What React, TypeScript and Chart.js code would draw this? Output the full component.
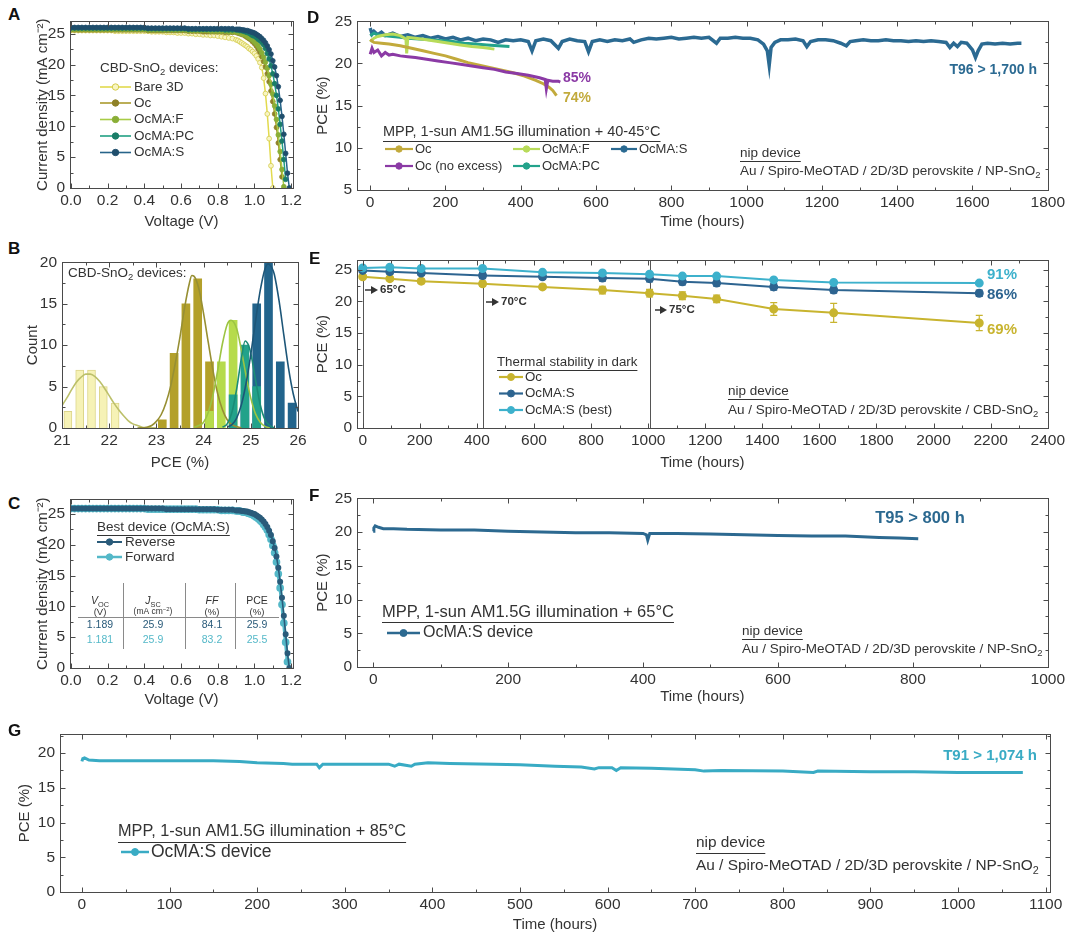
import React, { useEffect, useRef } from 'react';
import { Chart, registerables } from 'chart.js';

Chart.register(...registerables);

const FONT = '"Liberation Sans", Arial, Helvetica, sans-serif';
const TXT = '#333333';
const AXIS = '#4a4a4a';
const TICK_SIZE = 15.5;
const TITLE_SIZE = 15;
const PAD_T = 10;
const PAD_R = 20;

// ---------------- Panel A : J-V curves ----------------
const JV_V = [0, 0.02, 0.04, 0.06, 0.08, 0.1, 0.12, 0.14, 0.16, 0.18, 0.2, 0.22, 0.24, 0.26, 0.28, 0.3, 0.32, 0.34, 0.36, 0.38, 0.4,
  0.42, 0.44, 0.46, 0.48, 0.5, 0.52, 0.54, 0.56, 0.58, 0.6,
  0.62, 0.64, 0.66, 0.68, 0.7, 0.72, 0.74, 0.76, 0.78, 0.8, 0.82, 0.84, 0.86, 0.88, 0.9,
  0.91, 0.92, 0.93, 0.94, 0.95, 0.96, 0.97, 0.98, 0.99, 1.0, 1.01, 1.02, 1.03, 1.04, 1.05, 1.06, 1.07, 1.08, 1.09, 1.1,
  1.11, 1.12, 1.13, 1.14, 1.15, 1.16, 1.17, 1.18, 1.19, 1.2];
const A_BARE = [25.5, 25.5, 25.5, 25.5, 25.5, 25.5, 25.5, 25.5, 25.5, 25.5, 25.5, 25.5, 25.4, 25.4, 25.4, 25.4, 25.4, 25.4, 25.4, 25.4, 25.4,
  25.4, 25.3, 25.3, 25.3, 25.3, 25.2, 25.2, 25.2, 25.1, 25.1,
  25.1, 25.0, 25.0, 24.9, 24.9, 24.8, 24.8, 24.7, 24.7, 24.6, 24.5, 24.4, 24.3, 24.2, 24.0,
  23.9, 23.7, 23.5, 23.3, 23.1, 22.9, 22.6, 22.4, 22.1, 21.8, 21.4, 20.9, 20.3, 19.5, 17.8, 15.3, 12.0, 8.0, 3.6, 0];
const A_OC = [25.6, 25.6, 25.6, 25.6, 25.6, 25.6, 25.6, 25.6, 25.6, 25.6, 25.6, 25.6, 25.6, 25.6, 25.6, 25.6, 25.6, 25.6, 25.6, 25.6, 25.6,
  25.5, 25.5, 25.5, 25.5, 25.5, 25.5, 25.5, 25.5, 25.5, 25.5,
  25.5, 25.4, 25.4, 25.4, 25.4, 25.3, 25.3, 25.3, 25.3, 25.3, 25.3, 25.2, 25.2, 25.2, 25.2,
  25.1, 25.0, 24.9, 24.8, 24.6, 24.4, 24.2, 24.0, 23.7, 23.4, 23.0, 22.5, 22.0, 21.3, 20.5, 19.6, 18.5, 17.2, 15.7, 14.0,
  12.0, 9.8, 7.3, 4.6, 1.8];
const A_F = [25.7, 25.7, 25.7, 25.7, 25.7, 25.7, 25.7, 25.7, 25.7, 25.7, 25.7, 25.7, 25.7, 25.7, 25.7, 25.7, 25.7, 25.7, 25.7, 25.7, 25.7,
  25.6, 25.6, 25.6, 25.6, 25.6, 25.6, 25.6, 25.6, 25.6, 25.6,
  25.6, 25.5, 25.5, 25.5, 25.5, 25.5, 25.5, 25.4, 25.4, 25.4, 25.4, 25.4, 25.3, 25.3, 25.3,
  25.2, 25.1, 25.0, 24.9, 24.8, 24.6, 24.4, 24.2, 24.0, 23.7, 23.4, 23.0, 22.5, 21.9, 21.2, 20.4, 19.4, 18.2, 16.8, 15.2,
  13.3, 11.1, 8.6, 5.9, 3.0, 0.2];
const A_PC = [25.9, 25.9, 25.9, 25.9, 25.9, 25.9, 25.9, 25.9, 25.9, 25.9, 25.9, 25.9, 25.9, 25.9, 25.9, 25.9, 25.9, 25.9, 25.9, 25.9, 25.9,
  25.8, 25.8, 25.8, 25.8, 25.8, 25.8, 25.8, 25.8, 25.8, 25.8,
  25.8, 25.7, 25.7, 25.7, 25.7, 25.7, 25.7, 25.7, 25.7, 25.7, 25.7, 25.6, 25.6, 25.6, 25.6,
  25.6, 25.5, 25.5, 25.4, 25.3, 25.2, 25.1, 24.9, 24.7, 24.6, 24.4, 24.1, 23.9, 23.6, 23.2, 22.6, 21.8, 20.9, 19.8, 18.5,
  16.9, 15.0, 12.8, 10.3, 7.6, 4.6, 1.4];
const A_S = [26.0, 26.0, 26.0, 26.0, 26.0, 26.0, 26.0, 26.0, 26.0, 26.0, 26.0, 26.0, 26.0, 26.0, 26.0, 26.0, 26.0, 26.0, 26.0, 26.0, 26.0,
  25.9, 25.9, 25.9, 25.9, 25.9, 25.9, 25.9, 25.9, 25.9, 25.9,
  25.9, 25.8, 25.8, 25.8, 25.8, 25.8, 25.8, 25.8, 25.8, 25.8, 25.8, 25.8, 25.8, 25.8, 25.7,
  25.7, 25.7, 25.6, 25.6, 25.5, 25.5, 25.4, 25.3, 25.2, 25.1, 24.9, 24.7, 24.5, 24.2, 23.9, 23.5, 23.0, 22.4, 21.7, 20.6,
  19.6, 18.2, 16.4, 14.2, 11.6, 8.7, 5.6, 2.4, 0];

// ---------------- Panel B : PCE histograms ----------------
const B_BARE_X = [21.125, 21.375, 21.625, 21.875, 22.125];
const B_BARE_N = [2, 7, 7, 5, 3];
const B_OC_X = [23.125, 23.375, 23.625, 23.875, 24.125];
const B_OC_N = [1, 9, 15, 18, 8];
const B_F_X = [24.125, 24.375, 24.625];
const B_F_N = [2, 8, 13];
const B_PC_X = [24.625, 24.875, 25.125];
const B_PC_N = [4, 10, 5];
const B_S_X = [24.875, 25.125, 25.375, 25.625, 25.875];
const B_S_N = [4, 15, 20, 8, 3];
const B_FIT_BARE_X = [21.0, 21.1, 21.2, 21.3, 21.4, 21.5, 21.6, 21.7, 21.8, 21.9, 22.0, 22.1, 22.2, 22.3, 22.4, 22.5, 22.6, 22.7, 22.8, 23.0];
const B_FIT_BARE_Y = [2.7, 3.6, 4.6, 5.5, 6.1, 6.5, 6.5, 6.2, 5.6, 4.8, 3.9, 3.0, 2.2, 1.5, 0.9, 0.5, 0.3, 0.1, 0.05, 0];
const B_FIT_OC_X = [22.6, 22.8, 22.9, 23.0, 23.1, 23.2, 23.3, 23.4, 23.5, 23.6, 23.7, 23.75, 23.8, 23.9, 24.0, 24.1, 24.2, 24.3, 24.4, 24.5, 24.6, 24.8];
const B_FIT_OC_Y = [0, 0.1, 0.3, 0.8, 1.6, 3.0, 5.0, 7.8, 11.0, 14.6, 17.5, 18.4, 18.3, 16.8, 13.8, 10.3, 6.9, 4.1, 2.2, 1.0, 0.4, 0];
const B_FIT_F_X = [23.8, 23.9, 24.0, 24.1, 24.2, 24.3, 24.4, 24.5, 24.58, 24.7, 24.8, 24.9, 25.0, 25.1, 25.2, 25.3, 25.4];
const B_FIT_F_Y = [0.1, 0.3, 0.7, 1.9, 4.0, 7.0, 10.2, 12.5, 13.0, 12.0, 9.4, 6.3, 3.6, 1.7, 0.7, 0.2, 0];
const B_FIT_PC_X = [24.4, 24.5, 24.6, 24.7, 24.8, 24.88, 24.95, 25.0, 25.1, 25.2, 25.3, 25.4, 25.5];
const B_FIT_PC_Y = [0.1, 0.5, 1.9, 4.7, 8.4, 10.5, 10.0, 9.0, 5.8, 2.8, 1.0, 0.3, 0];
const B_FIT_S_X = [24.5, 24.6, 24.7, 24.8, 24.9, 25.0, 25.1, 25.2, 25.3, 25.37, 25.45, 25.5, 25.6, 25.7, 25.8, 25.9, 26.0];
const B_FIT_S_Y = [0.1, 0.4, 1.2, 2.8, 5.4, 8.9, 12.9, 16.6, 19.2, 19.8, 19.3, 18.5, 15.3, 11.2, 7.2, 4.1, 2.0];

// ---------------- Panel C : best device J-V ----------------
const C_REV = [25.9, 25.9, 25.9, 25.9, 25.9, 25.9, 25.9, 25.9, 25.9, 25.9, 25.9, 25.9, 25.9, 25.9, 25.9, 25.9, 25.9, 25.9, 25.9, 25.9, 25.9,
  25.9, 25.9, 25.9, 25.9, 25.9, 25.8, 25.8, 25.8, 25.8, 25.8,
  25.8, 25.8, 25.8, 25.8, 25.8, 25.8, 25.8, 25.8, 25.8, 25.7, 25.7, 25.7, 25.7, 25.7, 25.6,
  25.6, 25.6, 25.5, 25.5, 25.4, 25.4, 25.3, 25.2, 25.1, 25.0, 24.8, 24.6, 24.4, 24.1, 23.8, 23.4, 22.9, 22.3, 21.6, 20.6,
  19.5, 18.1, 16.3, 14.0, 11.4, 8.5, 5.5, 2.4, 0];
const C_FWD = [25.9, 25.9, 25.9, 25.9, 25.9, 25.9, 25.9, 25.9, 25.9, 25.9, 25.9, 25.9, 25.9, 25.9, 25.9, 25.9, 25.9, 25.9, 25.9, 25.9, 25.9,
  25.8, 25.8, 25.8, 25.8, 25.8, 25.8, 25.8, 25.8, 25.8, 25.8,
  25.8, 25.8, 25.8, 25.8, 25.7, 25.7, 25.7, 25.7, 25.7, 25.7, 25.6, 25.6, 25.6, 25.6, 25.5,
  25.5, 25.5, 25.4, 25.3, 25.3, 25.2, 25.1, 25.0, 24.9, 24.7, 24.5, 24.3, 24.0, 23.7, 23.3, 22.9, 22.4, 21.7, 20.9, 19.9,
  18.7, 17.2, 15.3, 13.0, 10.3, 7.3, 4.2, 1.0];
const C_TABLE_REV = ['1.189', '25.9', '84.1', '25.9'];
const C_TABLE_FWD = ['1.181', '25.9', '83.2', '25.5'];

// ---------------- Panel D : MPP 40-45 °C ----------------
const D_S_T = [0, 5, 10, 20, 30, 40, 60, 80, 100, 120, 140, 160, 180, 200, 220, 240, 260, 280, 300, 320, 340, 360, 380, 400, 420, 430, 440, 460, 480, 500,
  510, 530, 550, 570, 580, 590, 610, 630, 650, 670, 690, 700, 720, 740, 760, 780, 800, 820, 840, 860, 880, 900, 920, 930, 950, 970, 990, 1010, 1030, 1045,
  1055, 1060, 1065, 1075, 1090, 1110, 1130, 1150, 1160, 1170, 1190, 1210, 1230, 1250, 1265, 1275, 1290, 1310, 1330, 1350, 1370, 1390, 1410, 1430, 1450,
  1470, 1490, 1510, 1530, 1540, 1550, 1560, 1570, 1585, 1600, 1608, 1615, 1625, 1640, 1660, 1680, 1700, 1720, 1730];
const D_S_PCE = [24.2, 23.5, 23.8, 23.4, 23.7, 23.3, 23.6, 23.2, 23.4, 23.1, 23.3, 23.0, 23.2, 22.9, 23.1, 22.8, 23.0, 22.7, 22.9, 22.8, 22.5, 22.8, 22.7, 22.8, 22.6, 21.5, 22.7, 22.9, 22.7, 21.8,
  22.6, 22.9, 22.7, 22.6, 21.4, 22.6, 22.8, 22.6, 22.8, 22.7, 22.9, 22.5, 22.8, 23.0, 22.9, 23.0, 23.1, 22.9, 23.0, 23.1, 23.0, 23.1, 22.4, 23.0, 23.0, 23.1, 23.0, 23.0, 22.8, 22.3,
  21.5, 19.8, 21.9, 22.5, 22.8, 22.8, 22.9, 22.7, 22.0, 22.6, 22.8, 22.8, 22.7, 22.4, 22.1, 22.6, 22.7, 22.8, 22.7, 22.7, 22.8, 22.7, 22.7, 22.6, 22.7,
  22.6, 22.7, 22.6, 22.5, 21.9, 22.4, 22.0, 22.5, 22.4, 21.6, 20.7, 21.5, 22.3, 22.4, 22.3, 22.4, 22.3, 22.4, 22.4];
const D_PC_T = [0, 10, 20, 40, 60, 80, 100, 130, 160, 190, 220, 250, 280, 310, 340, 370];
const D_PC_PCE = [23.3, 23.6, 23.4, 23.3, 23.2, 23.1, 23.0, 22.9, 22.8, 22.7, 22.6, 22.4, 22.3, 22.2, 22.1, 22.0];
const D_F_T = [0, 10, 20, 40, 60, 80, 95, 97, 100, 120, 150, 180, 210, 240, 270, 300, 330];
const D_F_PCE = [22.6, 23.0, 23.2, 23.4, 23.5, 23.3, 22.9, 21.2, 23.1, 23.0, 22.8, 22.6, 22.4, 22.2, 22.0, 21.9, 21.7];
const D_OC_T = [0, 10, 30, 50, 80, 110, 140, 170, 200, 230, 260, 290, 320, 350, 380, 410, 440, 460, 475, 485, 495];
const D_OC_PCE = [22.8, 22.5, 22.4, 22.3, 22.1, 21.8, 21.5, 21.2, 20.9, 20.5, 20.1, 19.8, 19.5, 19.2, 18.9, 18.5, 18.0, 17.6, 17.2, 16.8, 16.2];
const D_NE_T = [0, 5, 10, 20, 30, 40, 50, 60, 80, 100, 120, 150, 180, 210, 240, 270, 300, 330, 360, 390, 420, 450, 465, 468, 472, 485, 500, 505];
const D_NE_PCE = [21.1, 21.8, 21.3, 21.6, 20.9, 21.3, 21.0, 21.1, 20.9, 20.8, 20.7, 20.5, 20.3, 20.1, 19.9, 19.7, 19.5, 19.3, 19.0, 18.8, 18.6, 18.3, 18.1, 17.0, 18.0, 17.9, 17.9, 17.8];

// ---------------- Panel E : thermal stability ----------------
const E_T = [0, 95, 205, 420, 630, 840, 1005, 1120, 1240, 1440, 1650, 2160];
const E_OC = [23.9, 23.6, 23.2, 22.8, 22.3, 21.8, 21.3, 20.9, 20.4, 18.8, 18.2, 16.6];
const E_OC_ERR = [0.3, 0.3, 0.4, 0.4, 0.4, 0.6, 0.6, 0.6, 0.6, 1.0, 1.5, 1.2];
const E_S = [24.9, 24.7, 24.5, 24.1, 23.9, 23.7, 23.6, 23.1, 22.9, 22.3, 21.8, 21.3];
const E_S_ERR = [0.3, 0.4, 0.4, 0.5, 0.4, 0.5, 0.5, 0.5, 0.5, 0.5, 0.5, 0.5];
const E_BEST = [25.3, 25.4, 25.2, 25.2, 24.6, 24.5, 24.3, 24.0, 24.0, 23.4, 23.0, 22.9];
const E_PHASES = [0, 420, 1005];

// ---------------- Panel F : MPP 65 °C ----------------
const F_T = [0, 1, 3, 8, 15, 30, 50, 100, 150, 200, 250, 300, 350, 400, 405, 407, 410, 450, 500, 550, 600, 650, 700, 750, 780, 808];
const F_PCE = [20.1, 20.6, 20.9, 20.7, 20.5, 20.5, 20.4, 20.3, 20.3, 20.1, 20.0, 19.9, 19.9, 19.8, 19.6, 18.8, 19.8, 19.8, 19.7, 19.6, 19.5, 19.4, 19.4, 19.2, 19.1, 19.0];

// ---------------- Panel G : MPP 85 °C ----------------
const G_T = [0, 1, 3, 8, 20, 50, 100, 150, 180, 200, 230, 240, 268, 271, 275, 300, 350, 357, 362, 376, 380, 395, 420, 470, 500, 540, 570, 585, 590, 605,
  610, 615, 650, 700, 710, 730, 800, 835, 840, 900, 950, 1000, 1050, 1074];
const G_PCE = [18.8, 19.2, 19.3, 19.0, 18.9, 18.9, 18.9, 18.9, 18.8, 18.6, 18.5, 18.4, 18.4, 17.9, 18.4, 18.4, 18.4, 18.1, 18.4, 18.1, 18.4, 18.6, 18.5, 18.4, 18.3, 18.1, 18.0, 17.7, 17.9, 17.9,
  17.5, 17.9, 17.8, 17.6, 17.4, 17.5, 17.4, 17.2, 17.4, 17.3, 17.3, 17.2, 17.2, 17.2];

// ---------------- tick labels ----------------
const V_TICKS = [0, 0.2, 0.4, 0.6, 0.8, 1.0, 1.2];
const J_TICKS = [0, 5, 10, 15, 20, 25];
const B_X_TICKS = [21, 22, 23, 24, 25, 26];
const B_Y_TICKS = [0, 5, 10, 15, 20];
const D_X_TICKS = [0, 200, 400, 600, 800, 1000, 1200, 1400, 1600, 1800];
const D_Y_TICKS = [5, 10, 15, 20, 25];
const E_X_TICKS = [0, 200, 400, 600, 800, 1000, 1200, 1400, 1600, 1800, 2000, 2200, 2400];
const PCE_TICKS = [0, 5, 10, 15, 20, 25];
const F_X_TICKS = [0, 200, 400, 600, 800, 1000];
const G_X_TICKS = [0, 100, 200, 300, 400, 500, 600, 700, 800, 900, 1000, 1100];
const G_Y_TICKS = [0, 5, 10, 15, 20];

// ---------------- colours ----------------
const COL = {
  bare: '#e2da4e', bareFill: '#f8f5c2', bareEdge: '#d4cc4c',
  oc: '#ab9a2e', ocDot: '#8f8128',
  f: '#a8cc46', fDot: '#8aae36',
  pc: '#21a084', pcDot: '#1a7d68',
  s: '#27648a', sDot: '#1f4e6c',
  barBare: '#f6f2b6', barOc: '#b3a02a', barF: '#b6db4c', barPc: '#22a28a', barS: '#22648c',
  fitBare: '#bcc06a', fitOc: '#978f33', fitF: '#9cc443', fitPc: '#1b8c76', fitS: '#1d5678',
  rev: '#2a5b7a', fwd: '#54b8c8',
  dOc: '#c2aa3c', dF: '#b8db5a', dS: '#2b6a92', dNe: '#8b3aa5', dPc: '#23a38b',
  eOc: '#c8b42f', eS: '#2d6490', eBest: '#3db1cc',
  fS: '#2c6990', gS: '#39abc4',
};

// ---------------- helpers ----------------
type Seg = string | { t: string; sub?: boolean; sup?: boolean; it?: boolean };
type Ann =
  | { k: 'text'; x: number; y: number; s: Seg[]; size: number; bold?: boolean; color?: string; align?: 'left' | 'center' | 'right'; ul?: boolean }
  | { k: 'leg'; x1: number; x2: number; y: number; color: string; fill?: string; stroke?: string; r?: number; lw?: number }
  | { k: 'line'; x1: number; y1: number; x2: number; y2: number; color: string; lw?: number }
  | { k: 'arrow'; x: number; y: number; len: number; color: string };

const pts = (xs: number[], ys: number[]) => ys.slice(0, xs.length).map((y, i) => ({ x: xs[i], y }));

const T = (x: number, y: number, s: Seg[] | string, size: number, o: any = {}): Ann =>
  ({ k: 'text', x, y, s: typeof s === 'string' ? [s] : s, size, ...o });
const L = (x1: number, x2: number, y: number, color: string, o: any = {}): Ann => ({ k: 'leg', x1, x2, y, color, ...o });

function drawRich(ctx: CanvasRenderingContext2D, a: any) {
  const parts = a.s.map((p: Seg) => (typeof p === 'string' ? { t: p } : p));
  const fontFor = (p: any) => `${p.it ? 'italic ' : ''}${a.bold ? 'bold ' : ''}${p.sub || p.sup ? a.size * 0.7 : a.size}px ${FONT}`;
  let total = 0;
  const widths = parts.map((p: any) => {
    ctx.font = fontFor(p);
    const w = ctx.measureText(p.t).width;
    total += w;
    return w;
  });
  let x = a.align === 'center' ? a.x - total / 2 : a.align === 'right' ? a.x - total : a.x;
  const x0 = x;
  ctx.fillStyle = a.color || TXT;
  ctx.textBaseline = 'middle';
  ctx.textAlign = 'left';
  parts.forEach((p: any, i: number) => {
    ctx.font = fontFor(p);
    const dy = p.sub ? a.size * 0.3 : p.sup ? -a.size * 0.33 : 0;
    ctx.fillText(p.t, x, a.y + dy);
    x += widths[i];
  });
  if (a.ul) {
    ctx.strokeStyle = a.color || TXT;
    ctx.lineWidth = 1;
    const uy = Math.round(a.y + a.size * 0.62) + 0.5;
    ctx.beginPath();
    ctx.moveTo(x0, uy);
    ctx.lineTo(x, uy);
    ctx.stroke();
  }
}

function drawAnn(ctx: CanvasRenderingContext2D, a: Ann) {
  if (a.k === 'text') drawRich(ctx, a);
  else if (a.k === 'leg') {
    ctx.strokeStyle = a.color;
    ctx.lineWidth = a.lw ?? 2.2;
    ctx.beginPath();
    ctx.moveTo(a.x1, a.y);
    ctx.lineTo(a.x2, a.y);
    ctx.stroke();
    ctx.beginPath();
    ctx.arc((a.x1 + a.x2) / 2, a.y, a.r ?? 3.2, 0, Math.PI * 2);
    ctx.fillStyle = a.fill || a.color;
    ctx.fill();
    ctx.strokeStyle = a.stroke || a.fill || a.color;
    ctx.lineWidth = 1;
    ctx.stroke();
  } else if (a.k === 'line') {
    ctx.strokeStyle = a.color;
    ctx.lineWidth = a.lw ?? 1;
    ctx.beginPath();
    ctx.moveTo(a.x1, a.y1);
    ctx.lineTo(a.x2, a.y2);
    ctx.stroke();
  } else if (a.k === 'arrow') {
    ctx.strokeStyle = a.color;
    ctx.fillStyle = a.color;
    ctx.lineWidth = 1.5;
    ctx.beginPath();
    ctx.moveTo(a.x, a.y);
    ctx.lineTo(a.x + a.len - 6, a.y);
    ctx.stroke();
    ctx.beginPath();
    ctx.moveTo(a.x + a.len, a.y);
    ctx.lineTo(a.x + a.len - 7, a.y - 4);
    ctx.lineTo(a.x + a.len - 7, a.y + 4);
    ctx.closePath();
    ctx.fill();
  }
}

const minorsOf = (t: number[], min: number, max: number) => {
  const out: number[] = [];
  for (let i = 0; i < t.length - 1; i++) out.push((t[i] + t[i + 1]) / 2);
  const st = t[1] - t[0];
  if (t[0] - st / 2 >= min) out.push(t[0] - st / 2);
  if (t[t.length - 1] + st / 2 <= max) out.push(t[t.length - 1] + st / 2);
  return out;
};

interface AxisSpec { min: number; max: number; ticks: number[]; title: string; fmt?: (v: number) => string }
interface PanelSpec {
  box: { l: number; t: number; r: number; b: number };
  yTitleX: number;
  xTitleY: number;
  type: 'line' | 'bar';
  x: AxisSpec;
  y: AxisSpec;
  datasets: any[];
  anns: Ann[];
  vlines?: number[];
}

function geom(s: PanelSpec) {
  const lh = TITLE_SIZE * 1.2;
  const left = Math.round(s.yTitleX - lh / 2);
  const top = Math.round(s.box.t - PAD_T);
  const right = Math.round(s.box.r + PAD_R);
  const bottom = Math.round(s.xTitleY + lh / 2);
  return { left, top, W: right - left, H: bottom - top, yw: s.box.l - left, xh: bottom - s.box.b };
}

function buildConfig(spec: PanelSpec, g: any): any {
  const tickFont = { family: FONT, size: TICK_SIZE };
  const titleFont = { family: FONT, size: TITLE_SIZE };
  const mkScale = (axis: 'x' | 'y') => {
    const a = axis === 'x' ? spec.x : spec.y;
    return {
      type: 'linear',
      min: a.min,
      max: a.max,
      offset: false,
      position: axis === 'x' ? 'bottom' : 'left',
      grid: { display: false, drawTicks: false },
      border: { display: false },
      ticks: {
        font: tickFont, color: TXT, padding: axis === 'x' ? 3 : 5, autoSkip: false, maxRotation: 0, minRotation: 0,
        callback: (v: any) => (a.fmt ? a.fmt(Number(v)) : String(v)),
      },
      title: { display: true, text: a.title, font: titleFont, color: TXT, padding: 0 },
      afterBuildTicks: (sc: any) => { sc.ticks = a.ticks.map((v) => ({ value: v })); },
      afterFit: (sc: any) => { if (axis === 'x') sc.height = g.xh; else sc.width = g.yw; },
    };
  };
  const under = {
    id: 'under',
    beforeDatasetsDraw(chart: any) {
      const { ctx, chartArea: ca } = chart;
      const xs = chart.scales.x, ys = chart.scales.y;
      ctx.save();
      (spec.vlines || []).forEach((v) => {
        const px = Math.round(xs.getPixelForValue(v)) + 0.5;
        ctx.strokeStyle = '#555';
        ctx.lineWidth = 1;
        ctx.beginPath();
        ctx.moveTo(px, ca.top);
        ctx.lineTo(px, ca.bottom);
        ctx.stroke();
      });
      chart.data.datasets.forEach((ds: any, di: number) => {
        if (!ds.errs) return;
        const meta = chart.getDatasetMeta(di);
        ctx.strokeStyle = ds.borderColor;
        ctx.lineWidth = 1.2;
        meta.data.forEach((el: any, i: number) => {
          const e = ds.errs[i];
          if (!e) return;
          const yv = ds.data[i].y;
          const y1 = ys.getPixelForValue(yv - e), y2 = ys.getPixelForValue(yv + e);
          ctx.beginPath();
          ctx.moveTo(el.x, y1); ctx.lineTo(el.x, y2);
          ctx.moveTo(el.x - 3.5, y1); ctx.lineTo(el.x + 3.5, y1);
          ctx.moveTo(el.x - 3.5, y2); ctx.lineTo(el.x + 3.5, y2);
          ctx.stroke();
        });
      });
      ctx.restore();
    },
  };
  const frame = {
    id: 'frame',
    afterDatasetsDraw(chart: any) {
      const { ctx, chartArea: ca } = chart;
      const xs = chart.scales.x, ys = chart.scales.y;
      ctx.save();
      ctx.strokeStyle = AXIS;
      ctx.lineWidth = 1;
      const L0 = Math.round(ca.left) + 0.5, R0 = Math.round(ca.right) + 0.5, T0 = Math.round(ca.top) + 0.5, B0 = Math.round(ca.bottom) + 0.5;
      ctx.strokeRect(L0, T0, R0 - L0, B0 - T0);
      ctx.beginPath();
      const xt = (vals: number[], len: number) => vals.forEach((v) => {
        const p = Math.round(xs.getPixelForValue(v)) + 0.5;
        ctx.moveTo(p, B0); ctx.lineTo(p, B0 - len);
        ctx.moveTo(p, T0); ctx.lineTo(p, T0 + len);
      });
      const yt = (vals: number[], len: number) => vals.forEach((v) => {
        const p = Math.round(ys.getPixelForValue(v)) + 0.5;
        ctx.moveTo(L0, p); ctx.lineTo(L0 + len, p);
        ctx.moveTo(R0, p); ctx.lineTo(R0 - len, p);
      });
      xt(spec.x.ticks, 5);
      xt(minorsOf(spec.x.ticks, spec.x.min, spec.x.max), 3);
      yt(spec.y.ticks, 5);
      yt(minorsOf(spec.y.ticks, spec.y.min, spec.y.max), 3);
      ctx.stroke();
      ctx.restore();
    },
  };
  const anns = {
    id: 'anns',
    afterDraw(chart: any) {
      const ctx = chart.ctx;
      ctx.save();
      ctx.translate(-g.left, -g.top);
      spec.anns.forEach((a) => drawAnn(ctx, a));
      ctx.restore();
    },
  };
  return {
    type: spec.type,
    data: { datasets: spec.datasets },
    options: {
      responsive: false,
      animation: false,
      events: [],
      layout: { padding: { top: PAD_T, right: PAD_R, left: 0, bottom: 0 } },
      plugins: { legend: { display: false }, tooltip: { enabled: false } },
      scales: { x: mkScale('x'), y: mkScale('y') },
    },
    plugins: [under, frame, anns],
  };
}

function Panel({ spec }: { spec: PanelSpec }) {
  const ref = useRef<HTMLCanvasElement>(null);
  const g = geom(spec);
  useEffect(() => {
    const chart = new Chart(ref.current as HTMLCanvasElement, buildConfig(spec, g));
    return () => chart.destroy();
  }, []);
  return (
    <canvas ref={ref} width={g.W} height={g.H}
      style={{ position: 'absolute', left: g.left, top: g.top, width: g.W, height: g.H }} />
  );
}

const lineDs = (xs: number[], ys: number[], color: string, o: any = {}) => ({
  type: 'line', data: pts(xs, ys), borderColor: color, backgroundColor: color,
  borderWidth: 2, pointRadius: 0, tension: 0, fill: false, ...o,
});
const jvDs = (ys: number[], color: string, dot: string, edge: string) =>
  lineDs(JV_V, ys, color, { borderWidth: 1.5, pointRadius: 2.4, pointBackgroundColor: dot, pointBorderColor: edge, pointBorderWidth: 0.8 });
const barDs = (xs: number[], ys: number[], color: string, order: number, o: any = {}) => ({
  type: 'bar', data: pts(xs, ys), backgroundColor: color, borderColor: color, borderWidth: 0,
  barThickness: 8, grouped: false, order, ...o,
});
const fitDs = (xs: number[], ys: number[], color: string, order: number) =>
  lineDs(xs, ys, color, { borderWidth: 1.6, tension: 0.35, cubicInterpolationMode: 'monotone', order });

const fmt1 = (v: number) => v.toFixed(1);
const SNO2: Seg[] = ['Au / Spiro-MeOTAD / 2D/3D perovskite / NP-SnO', { t: '2', sub: true }];
const CBD: Seg[] = ['Au / Spiro-MeOTAD / 2D/3D perovskite / CBD-SnO', { t: '2', sub: true }];
const JTITLE = 'Current density (mA cm⁻²)';

const PANEL_A: PanelSpec = {
  box: { l: 70, t: 17, r: 293, b: 188 }, yTitleX: 43, xTitleY: 222, type: 'line',
  x: { min: -0.005, max: 1.21, ticks: V_TICKS, title: 'Voltage (V)', fmt: fmt1 },
  y: { min: 0, max: 27, ticks: J_TICKS, title: JTITLE },
  datasets: [
    jvDs(A_S, COL.s, COL.sDot, COL.sDot),
    jvDs(A_PC, COL.pc, COL.pcDot, COL.pcDot),
    jvDs(A_F, COL.f, COL.fDot, COL.fDot),
    jvDs(A_OC, COL.oc, COL.ocDot, COL.ocDot),
    jvDs(A_BARE, COL.bare, COL.bareFill, COL.bareEdge),
  ],
  anns: [
    T(100, 68, ['CBD-SnO', { t: '2', sub: true }, ' devices:'], 13.5),
    L(100, 131, 87, COL.bare, { fill: COL.bareFill, stroke: COL.bareEdge, lw: 1.6 }), T(134, 87, 'Bare 3D', 13.5),
    L(100, 131, 103, COL.oc, { fill: COL.ocDot, lw: 1.6 }), T(134, 103, 'Oc', 13.5),
    L(100, 131, 119.5, COL.f, { fill: COL.fDot, lw: 1.6 }), T(134, 119.5, 'OcMA:F', 13.5),
    L(100, 131, 136, COL.pc, { fill: COL.pcDot, lw: 1.6 }), T(134, 136, 'OcMA:PC', 13.5),
    L(100, 131, 152.5, COL.s, { fill: COL.sDot, lw: 1.6 }), T(134, 152.5, 'OcMA:S', 13.5),
  ],
};

const PANEL_B: PanelSpec = {
  box: { l: 62, t: 258, r: 298, b: 428 }, yTitleX: 33, xTitleY: 463, type: 'bar',
  x: { min: 21, max: 26, ticks: B_X_TICKS, title: 'PCE (%)' },
  y: { min: 0, max: 20, ticks: B_Y_TICKS, title: 'Count' },
  datasets: [
    fitDs(B_FIT_S_X, B_FIT_S_Y, COL.fitS, 0),
    fitDs(B_FIT_PC_X, B_FIT_PC_Y, COL.fitPc, 1),
    fitDs(B_FIT_F_X, B_FIT_F_Y, COL.fitF, 2),
    fitDs(B_FIT_OC_X, B_FIT_OC_Y, COL.fitOc, 3),
    fitDs(B_FIT_BARE_X, B_FIT_BARE_Y, COL.fitBare, 4),
    barDs(B_PC_X, B_PC_N, COL.barPc, 5),
    barDs(B_S_X, B_S_N, COL.barS, 6),
    barDs(B_F_X, B_F_N, COL.barF, 7),
    barDs(B_OC_X, B_OC_N, COL.barOc, 8),
    barDs(B_BARE_X, B_BARE_N, COL.barBare, 9, { borderColor: '#dcd58a', borderWidth: 1 }),
  ],
  anns: [T(68, 273, ['CBD-SnO', { t: '2', sub: true }, ' devices:'], 13.5)],
};

const PANEL_C: PanelSpec = {
  box: { l: 70, t: 495, r: 293, b: 668 }, yTitleX: 43, xTitleY: 700, type: 'line',
  x: { min: -0.005, max: 1.21, ticks: V_TICKS, title: 'Voltage (V)', fmt: fmt1 },
  y: { min: 0, max: 27.4, ticks: J_TICKS, title: JTITLE },
  datasets: [
    lineDs(JV_V, C_REV, COL.rev, { borderWidth: 1.6, pointRadius: 2.2, pointBackgroundColor: COL.rev, pointBorderColor: COL.rev }),
    lineDs(JV_V, C_FWD, COL.fwd, { borderWidth: 3.5, pointRadius: 2.1, pointBackgroundColor: COL.fwd, pointBorderColor: COL.fwd }),
  ],
  anns: [
    T(97, 527, 'Best device (OcMA:S)', 13.5, { ul: true }),
    L(97, 122, 542, COL.rev, { lw: 2 }), T(125, 542, 'Reverse', 13.5),
    L(97, 122, 557, COL.fwd, { lw: 2.5 }), T(125, 557, 'Forward', 13.5),
    T(100, 601.5, [{ t: 'V', it: true }, { t: 'OC', sub: true }], 10.5, { align: 'center' }),
    T(100, 612, '(V)', 9.5, { align: 'center' }),
    T(153, 601.5, [{ t: 'J', it: true }, { t: 'SC', sub: true }], 10.5, { align: 'center' }),
    T(153, 612, ['(mA cm', { t: '−2', sup: true }, ')'], 8.5, { align: 'center' }),
    T(212, 601.5, [{ t: 'FF', it: true }], 10.5, { align: 'center' }),
    T(212, 612, '(%)', 9.5, { align: 'center' }),
    T(257, 601.5, 'PCE', 10.5, { align: 'center' }),
    T(257, 612, '(%)', 9.5, { align: 'center' }),
    { k: 'line', x1: 78, y1: 617.5, x2: 279, y2: 617.5, color: '#8a8a8a' },
    { k: 'line', x1: 123.5, y1: 583, x2: 123.5, y2: 649, color: '#8a8a8a' },
    { k: 'line', x1: 185.5, y1: 583, x2: 185.5, y2: 649, color: '#8a8a8a' },
    { k: 'line', x1: 235.5, y1: 583, x2: 235.5, y2: 649, color: '#8a8a8a' },
    T(100, 625.5, C_TABLE_REV[0], 10.5, { align: 'center', color: COL.rev }),
    T(153, 625.5, C_TABLE_REV[1], 10.5, { align: 'center', color: COL.rev }),
    T(212, 625.5, C_TABLE_REV[2], 10.5, { align: 'center', color: COL.rev }),
    T(257, 625.5, C_TABLE_REV[3], 10.5, { align: 'center', color: COL.rev }),
    T(100, 640, C_TABLE_FWD[0], 10.5, { align: 'center', color: COL.fwd }),
    T(153, 640, C_TABLE_FWD[1], 10.5, { align: 'center', color: COL.fwd }),
    T(212, 640, C_TABLE_FWD[2], 10.5, { align: 'center', color: COL.fwd }),
    T(257, 640, C_TABLE_FWD[3], 10.5, { align: 'center', color: COL.fwd }),
  ],
};

const PANEL_D: PanelSpec = {
  box: { l: 357, t: 17, r: 1048, b: 190 }, yTitleX: 323, xTitleY: 222, type: 'line',
  x: { min: -35, max: 1800, ticks: D_X_TICKS, title: 'Time (hours)' },
  y: { min: 5, max: 25, ticks: D_Y_TICKS, title: 'PCE (%)' },
  datasets: [
    lineDs(D_NE_T, D_NE_PCE, COL.dNe, { borderWidth: 3 }),
    lineDs(D_OC_T, D_OC_PCE, COL.dOc, { borderWidth: 3 }),
    lineDs(D_F_T, D_F_PCE, COL.dF, { borderWidth: 3 }),
    lineDs(D_PC_T, D_PC_PCE, COL.dPc, { borderWidth: 3 }),
    lineDs(D_S_T, D_S_PCE, COL.dS, { borderWidth: 3.5 }),
  ],
  anns: [
    T(383, 132, 'MPP, 1-sun AM1.5G illumination + 40-45°C', 14.5, { ul: true }),
    L(385, 413, 149, COL.dOc), T(415, 149, 'Oc', 13),
    L(513, 540, 149, COL.dF), T(542, 149, 'OcMA:F', 13),
    L(611, 637, 149, COL.dS), T(639, 149, 'OcMA:S', 13),
    L(385, 413, 166, COL.dNe), T(415, 166, 'Oc (no excess)', 13),
    L(513, 540, 166, COL.dPc), T(542, 166, 'OcMA:PC', 13),
    T(740, 153, 'nip device', 13.5, { ul: true }),
    T(740, 171.5, SNO2, 13.5),
    T(563, 78, '85%', 14, { bold: true, color: COL.dNe }),
    T(563, 98, '74%', 14, { bold: true, color: COL.dOc }),
    T(1037, 70, 'T96 > 1,700 h', 14, { bold: true, color: COL.dS, align: 'right' }),
  ],
};

const PANEL_E: PanelSpec = {
  box: { l: 357, t: 256, r: 1048, b: 428 }, yTitleX: 323, xTitleY: 463, type: 'line',
  x: { min: -20, max: 2400, ticks: E_X_TICKS, title: 'Time (hours)' },
  y: { min: 0, max: 26.5, ticks: PCE_TICKS, title: 'PCE (%)' },
  vlines: E_PHASES,
  datasets: [
    lineDs(E_T, E_BEST, COL.eBest, { pointRadius: 3.5, pointBackgroundColor: COL.eBest }),
    lineDs(E_T, E_S, COL.eS, { pointRadius: 3.5, pointBackgroundColor: COL.eS, errs: E_S_ERR }),
    lineDs(E_T, E_OC, COL.eOc, { pointRadius: 3.5, pointBackgroundColor: COL.eOc, errs: E_OC_ERR }),
  ],
  anns: [
    T(497, 362, 'Thermal stability in dark', 13.3, { ul: true }),
    L(499, 523, 377, COL.eOc, { r: 3.5 }), T(525, 377, 'Oc', 13.3),
    L(499, 523, 393.5, COL.eS, { r: 3.5 }), T(525, 393.5, 'OcMA:S', 13.3),
    L(499, 523, 410, COL.eBest, { r: 3.5 }), T(525, 410, 'OcMA:S (best)', 13.3),
    T(728, 391, 'nip device', 13.5, { ul: true }),
    T(728, 410, CBD, 13.5),
    { k: 'arrow', x: 365, y: 290, len: 13, color: '#333' }, T(380, 290, '65°C', 11.5, { bold: true }),
    { k: 'arrow', x: 486, y: 302, len: 13, color: '#333' }, T(501, 302, '70°C', 11.5, { bold: true }),
    { k: 'arrow', x: 655, y: 310, len: 12, color: '#333' }, T(669, 310, '75°C', 11.5, { bold: true }),
    T(987, 275, '91%', 15, { bold: true, color: COL.eBest }),
    T(987, 295, '86%', 15, { bold: true, color: COL.eS }),
    T(987, 330, '69%', 15, { bold: true, color: COL.eOc }),
  ],
};

const PANEL_F: PanelSpec = {
  box: { l: 357, t: 494, r: 1048, b: 667 }, yTitleX: 323, xTitleY: 697, type: 'line',
  x: { min: -24, max: 1000, ticks: F_X_TICKS, title: 'Time (hours)' },
  y: { min: 0, max: 25, ticks: PCE_TICKS, title: 'PCE (%)' },
  datasets: [lineDs(F_T, F_PCE, COL.fS, { borderWidth: 3 })],
  anns: [
    T(382, 612, 'MPP, 1-sun AM1.5G illumination + 65°C', 16.5, { ul: true }),
    L(387, 420, 633, COL.fS, { r: 3.5, lw: 2.5 }), T(423, 633, 'OcMA:S device', 16),
    T(742, 631, 'nip device', 13.5, { ul: true }),
    T(742, 649.5, SNO2, 13.5),
    T(920, 518, 'T95 > 800 h', 16.5, { bold: true, color: COL.fS, align: 'center' }),
  ],
};

const PANEL_G: PanelSpec = {
  box: { l: 60, t: 730, r: 1050, b: 892 }, yTitleX: 25, xTitleY: 925, type: 'line',
  x: { min: -25, max: 1105, ticks: G_X_TICKS, title: 'Time (hours)' },
  y: { min: 0, max: 22.7, ticks: G_Y_TICKS, title: 'PCE (%)' },
  datasets: [lineDs(G_T, G_PCE, COL.gS, { borderWidth: 3 })],
  anns: [
    T(118, 832, 'MPP, 1-sun AM1.5G illumination + 85°C', 16.3, { ul: true }),
    L(121, 149, 852, COL.gS, { r: 3.5, lw: 2.5 }), T(151, 852, 'OcMA:S device', 17.5),
    T(696, 843, 'nip device', 15.4, { ul: true }),
    T(696, 866, SNO2, 15.4),
    T(1037, 756, 'T91 > 1,074 h', 15, { bold: true, color: COL.gS, align: 'right' }),
  ],
};

const PANELS = [PANEL_A, PANEL_B, PANEL_C, PANEL_D, PANEL_E, PANEL_F, PANEL_G];
const LETTERS = [
  { t: 'A', x: 8, y: 6 }, { t: 'B', x: 8, y: 240 }, { t: 'C', x: 8, y: 495 },
  { t: 'D', x: 307, y: 9 }, { t: 'E', x: 309, y: 250 }, { t: 'F', x: 309, y: 487 }, { t: 'G', x: 8, y: 722 },
];

export default function App() {
  return (
    <div style={{ position: 'fixed', left: 0, top: 0, width: 1080, height: 945, background: '#ffffff', overflow: 'hidden' }}>
      {PANELS.map((p, i) => <Panel key={i} spec={p} />)}
      {LETTERS.map((l) => (
        <div key={l.t} style={{
          position: 'absolute', left: l.x, top: l.y, font: `bold 17px "Liberation Sans Narrow", ${FONT}`,
          lineHeight: '17px', color: '#111',
        }}>{l.t}</div>
      ))}
    </div>
  );
}
